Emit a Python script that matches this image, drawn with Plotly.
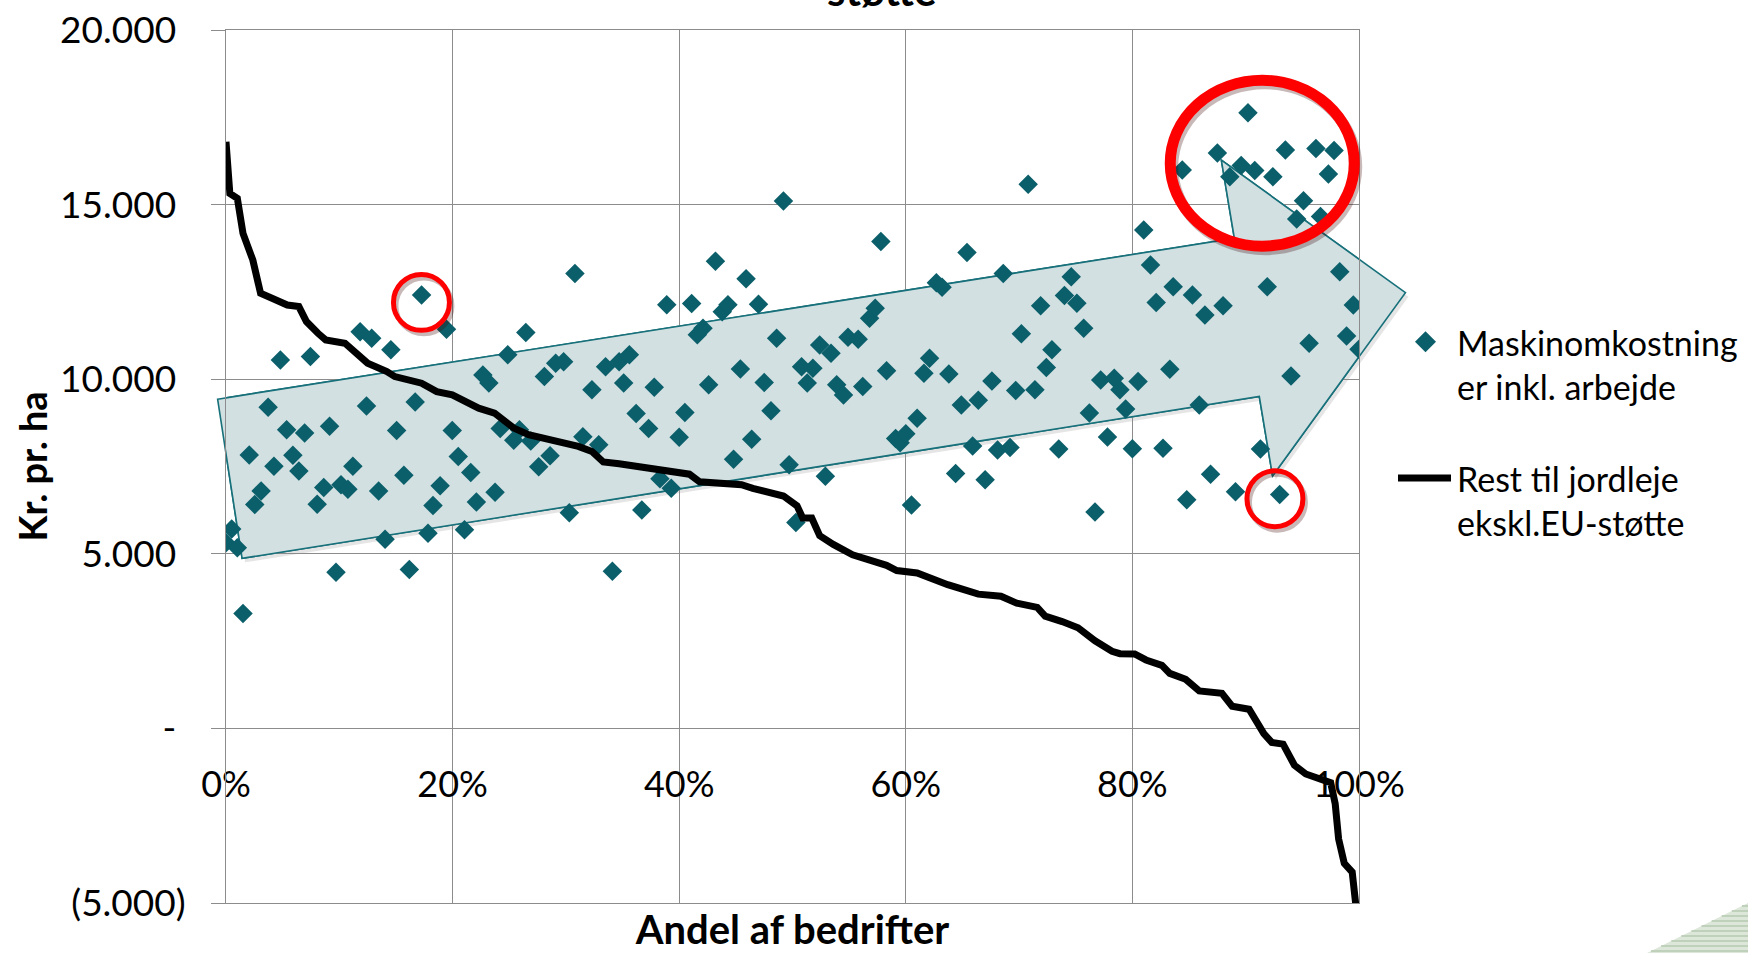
import plotly.graph_objects as go

# ---------------- data ----------------
# Maskinomkostninger inkl. arbejde (scatter), x = andel af bedrifter (%)
mach_x = [0.0, 0.5, 1.0, 1.5, 2.05, 2.54, 3.1, 3.72, 4.23, 4.8, 5.35, 5.9, 6.43, 6.94, 7.45,
          8.05, 8.63, 9.14, 9.71, 10.15, 10.76, 11.2, 11.84, 12.4, 12.86, 13.47, 14.04, 14.55,
          15.06, 15.7, 16.18, 16.7, 17.26, 17.83, 18.27, 18.9, 19.46, 19.97, 20.5, 21.05, 21.6,
          22.1, 22.67, 23.2, 23.75, 24.2, 24.87, 25.4, 25.9, 26.46, 26.9, 27.6, 28.1, 28.6, 29.1,
          29.8, 30.3, 30.8, 31.5, 32.3, 32.9, 33.5,
          34.1, 34.7, 35.1, 35.6, 36.2, 36.7, 37.3, 37.8, 38.3, 38.9, 39.3, 40.0, 40.5, 41.1,
          41.6, 42.1, 42.6, 43.2, 43.8, 44.3, 44.8, 45.4, 45.9, 46.4, 47.0, 47.5, 48.1, 48.6,
          49.2, 49.7, 50.3, 50.8, 51.3, 51.8, 52.4, 52.9, 53.4, 53.9, 54.5, 54.9, 55.8, 56.2,
          56.8, 57.3, 57.8, 58.3, 59.1, 59.5, 60.0, 60.5, 61.0, 61.6, 62.1, 62.7, 63.2, 63.8,
          64.4, 64.9, 65.4, 65.9, 66.4, 67.0, 67.6, 68.1, 68.6, 69.2, 69.7, 70.2, 70.8, 71.4,
          71.9, 72.4, 72.9, 73.5, 74.0, 74.6, 75.1, 75.7, 76.2, 76.7, 77.2, 77.8, 78.4, 78.9,
          79.4, 80.0, 80.5, 81.0, 81.6, 82.1, 82.7, 83.3, 83.6,
          84.4, 84.8, 85.3, 85.9, 86.4, 86.9, 87.5, 88.0, 88.6, 89.1, 89.6, 90.2, 90.8, 91.3,
          91.9, 92.4, 93.0, 93.5, 94.0, 94.5, 95.1, 95.6, 96.2, 96.6, 97.3, 97.8, 98.3, 98.9,
          99.5, 100.0]
mach_y = [5320, 5710, 5170, 3290, 7830, 6410, 6800, 9200, 7510, 10550, 8550, 7820, 7370, 8460, 10650,
          6420, 6900, 8650, 4470, 6980, 6850, 7510, 11360, 9230, 11170, 6800, 5420, 10840,
          8530, 7250, 4550, 9350, 12410, 5590, 6380, 6950, 11430, 8530, 7785, 5690, 7330,
          6480, 10120, 9890, 6760, 8590, 10700, 8250, 8550, 11340, 8230, 7490, 10080, 7810, 10460,
          10500, 6175, 13030, 8350, 9700, 8120, 10360,
          4500, 10500, 9890, 10700, 9020, 6255, 8590, 9770, 7150, 12130, 6880, 8340, 9045, 12170,
          11270, 11460, 9840, 13380, 11935, 12130, 7705, 10290, 12880, 8280, 12145, 9905, 9095, 11170,
          15100, 7550, 5895, 10360, 9890, 10315, 10980, 7220, 10745, 9840, 9550, 11200, 11145, 9790,
          11745, 12030, 13940, 10240, 8300, 8180, 8435, 6395, 8885, 10170, 10600, 12765, 12630, 10150,
          7300, 9260, 13630, 8090, 9400, 7120, 9950, 7970, 13030, 8045, 9675, 11300, 15580, 9695,
          12100, 10335, 10840, 8000, 12395, 12935, 12175, 11460, 9030, 6195, 9980, 8345, 10030, 9695,
          9150, 8010, 9935, 14270, 13270, 12195, 8020, 10285, 12650,
          15990, 6545, 12410, 9260, 11840, 7280, 16480, 12100, 15800, 6775, 16120, 17630, 15980, 8000,
          12650, 15800, 6700, 16560, 10095, 14585, 15110, 11030, 16610, 14660, 15875, 16550, 13080, 11240,
          12125, 10860]

# Rest til jordleje ekskl. EU-stoette (sorted line)
rest_x = [0.0, 0.34, 1.0, 1.5, 2.37, 3.05, 4.06, 5.41, 6.43, 7.1, 8.12, 8.8, 10.5, 12.5, 14.2,
          14.9, 17.26, 18.6, 19.97, 22.3, 23.7, 25.4, 26.7, 29.8, 31.1, 32.3, 33.3, 34.7, 38.0,
          40.9, 41.8, 45.5, 46.5, 49.2, 50.4, 50.9, 51.7, 52.4, 53.6, 55.3, 58.3, 59.2, 61.0,
          62.0, 63.7, 64.7, 66.4, 68.4, 69.8, 71.6, 72.3, 73.8, 75.2, 76.7, 78.2, 78.9, 80.2,
          81.2, 82.6, 83.3, 84.7, 85.9, 87.9, 88.8, 90.3, 91.6, 92.3, 93.3, 94.3, 95.3, 96.4,
          97.5, 97.9, 98.2, 98.7, 99.4, 99.7, 100.0]
rest_y = [16800, 15320, 15180, 14175, 13410, 12460, 12320, 12125, 12080, 11650, 11315, 11125, 11030, 10460, 10220,
          10075, 9885, 9645, 9550, 9170, 9030, 8600, 8410, 8170, 8075, 7930, 7630, 7580, 7430,
          7280, 7060, 6980, 6875, 6655, 6375, 6025, 6025, 5520, 5270, 4970, 4670, 4520, 4450,
          4315, 4115, 4015, 3845, 3785, 3585, 3465, 3215, 3060, 2880, 2510, 2210, 2140, 2130,
          1960, 1805, 1575, 1405, 1075, 1005, 635, 550, -150, -400, -450, -1055, -1305, -1405,
          -1555, -2160, -3165, -3865, -4115, -5000, -5400]

x_tickvals = [0, 20, 40, 60, 80, 100]
x_ticktext = ["0%", "20%", "40%", "60%", "80%", "100%"]
y_tickvals = [-5000, 0, 5000, 10000, 15000, 20000]
y_ticktext = ["(5.000)", "-\u00a0", "5.000\u00a0", "10.000\u00a0", "15.000\u00a0", "20.000\u00a0"]

# annotation geometry (data units)
arrow_x = [-0.74, 89.0, 87.85, 104.1, 92.37, 91.2, 1.42, -0.74]
arrow_y = [9428, 14032, 16273, 12479, 7229, 9504, 4869, 9428]
circles = [  # (cx, cy, rx, ry, stroke width px)
    (91.46, 16185, 8.12, 2375, 11),
    (17.25, 12200, 2.47, 801, 5),
    (92.58, 6577, 2.47, 801, 5),
]

X_RANGE = [0, 100]
Y_RANGE = [-5000, 20000]

W, H = 1748, 953
ML, MR, MT, MB = 226, 389, 30, 50
PW, PH = W - ML - MR, H - MT - MB

FONT = "Lato, 'Open Sans', sans-serif"
TEAL = "#0b5f6a"
GRID = "#8c8c8c"
ARROW_FILL = "#d2e0e2"
ARROW_LINE = "#17707a"


def dx(v):
    return (v - X_RANGE[0]) / (X_RANGE[1] - X_RANGE[0])


def dy(v):
    return (v - Y_RANGE[0]) / (Y_RANGE[1] - Y_RANGE[0])


def px_to_paper(px, py):
    return (px - ML) / PW, (H - MB - py) / PH


def path_of(pts):
    return "M " + " L ".join(f"{a:.5f},{b:.5f}" for a, b in pts) + " Z"


fig = go.Figure()

# translucent arrow (inside the plot box, above the grid)
fig.add_trace(go.Scatter(
    x=arrow_x, y=arrow_y, mode="lines", fill="toself", fillcolor=ARROW_FILL,
    line=dict(color=ARROW_LINE, width=1.6), hoverinfo="skip", showlegend=False,
))
fig.add_trace(go.Scatter(
    x=mach_x, y=mach_y, mode="markers", name="Maskinomkostninger inkl. arbejde",
    marker=dict(symbol="diamond", size=15, color=TEAL, line=dict(width=0)),
    showlegend=False,
))
fig.add_trace(go.Scatter(
    x=rest_x, y=rest_y, mode="lines", name="Rest til jordleje ekskl.EU-støtte",
    line=dict(color="black", width=7),
    showlegend=False,
))

shapes = []

# arrow part that sticks out of the plot box + its soft shadow (paper coords)
arrow_paper = [(dx(x), dy(y)) for x, y in zip(arrow_x[:-1], arrow_y[:-1])]
shadow_paper = [(a + 3 / PW, b - 4 / PH) for a, b in arrow_paper]
shapes.append(dict(type="path", xref="paper", yref="paper", layer="below",
                   path=path_of(shadow_paper), fillcolor="rgba(0,0,0,0.10)",
                   line=dict(width=0)))
shapes.append(dict(type="path", xref="paper", yref="paper", layer="below",
                   path=path_of(arrow_paper), fillcolor=ARROW_FILL,
                   line=dict(color=ARROW_LINE, width=1.6)))

# red circles with soft shadow
for cx, cy, rx, ry, lw in circles:
    for offx, offy, col in [(2.5 / PW, -3.5 / PH, "rgba(60,0,0,0.28)"), (0, 0, "#ff0000")]:
        shapes.append(dict(type="circle", xref="paper", yref="paper", layer="above",
                           x0=dx(cx - rx) + offx, x1=dx(cx + rx) + offx,
                           y0=dy(cy - ry) + offy, y1=dy(cy + ry) + offy,
                           line=dict(color=col, width=lw)))

# manual legend symbols
lx, ly = 1425.5, 341.7
pts = [(lx, ly - 10.5), (lx + 10.5, ly), (lx, ly + 10.5), (lx - 10.5, ly)]
shapes.append(dict(type="path", xref="paper", yref="paper",
                   path=path_of([px_to_paper(a, b) for a, b in pts]),
                   fillcolor=TEAL, line=dict(width=0)))
(a0, b0), (a1, b1) = px_to_paper(1398, 478), px_to_paper(1451, 478)
shapes.append(dict(type="line", xref="paper", yref="paper", x0=a0, y0=b0, x1=a1, y1=b1,
                   line=dict(color="black", width=7)))

# bottom-right slide decoration (green striped wedge)
tri = [px_to_paper(1643, 955), px_to_paper(1750, 902), px_to_paper(1750, 955)]
shapes.append(dict(type="path", xref="paper", yref="paper", layer="below",
                   path=path_of(tri), fillcolor="#dce7d9", line=dict(width=0)))
for py in range(906, 954, 5):
    xs = 1643 + (955 - py) * (107 / 53)
    (a0, b0), (a1, b1) = px_to_paper(xs, py), px_to_paper(1750, py)
    shapes.append(dict(type="line", xref="paper", yref="paper", layer="below",
                       x0=a0, y0=b0, x1=a1, y1=b1, line=dict(color="#bfd1bb", width=2)))

annotations = []
a, b = px_to_paper(1455, 364.2)
annotations.append(dict(xref="paper", yref="paper", x=a, y=b, xanchor="left", yanchor="middle",
                        align="left", showarrow=False,
                        text="Maskinomkostning<br>er inkl. arbejde",
                        font=dict(family=FONT, size=34, color="black")))
a, b = px_to_paper(1455, 500.5)
annotations.append(dict(xref="paper", yref="paper", x=a, y=b, xanchor="left", yanchor="middle",
                        align="left", showarrow=False,
                        text="Rest til jordleje<br>ekskl.EU-støtte",
                        font=dict(family=FONT, size=34, color="black")))
# chart title, cut off by the top edge as in the source slide
a, b = px_to_paper(881.7, 17)
annotations.append(dict(xref="paper", yref="paper", x=a, y=b, xanchor="center", yanchor="bottom",
                        showarrow=False, text="<b>støtte</b>",
                        font=dict(family=FONT, size=42, color="black")))

fig.update_layout(
    width=W, height=H,
    margin=dict(l=ML, r=MR, t=MT, b=MB, autoexpand=False),
    paper_bgcolor="white", plot_bgcolor="white",
    showlegend=False,
    font=dict(family=FONT, color="black"),
    shapes=shapes,
    annotations=annotations,
    xaxis=dict(range=X_RANGE, tickvals=x_tickvals, ticktext=x_ticktext,
               showgrid=True, gridcolor=GRID, gridwidth=1, zeroline=False,
               showline=True, linecolor=GRID, linewidth=1, mirror=True,
               ticks="", ticklabelposition="inside", ticklabelstandoff=103,
               ticklabeloverflow="allow", layer="below traces",
               tickfont=dict(family=FONT, size=36, color="black"),
               title=dict(text="<b>Andel af bedrifter</b>", standoff=121,
                          font=dict(family=FONT, size=40, color="black"))),
    yaxis=dict(range=Y_RANGE, tickvals=y_tickvals, ticktext=y_ticktext,
               showgrid=True, gridcolor=GRID, gridwidth=1, zeroline=False,
               showline=True, linecolor=GRID, linewidth=1, mirror=True,
               ticks="outside", ticklen=14, tickcolor=GRID, tickwidth=1,
               ticklabelstandoff=18,
               tickfont=dict(family=FONT, size=37, color="black"),
               title=dict(text="<b>Kr. pr. ha</b>", standoff=0,
                          font=dict(family=FONT, size=38, color="black"))),
)

fig.write_html("out.html", config={"displayModeBar": False},
               post_script="document.body.style.margin='0px';")
